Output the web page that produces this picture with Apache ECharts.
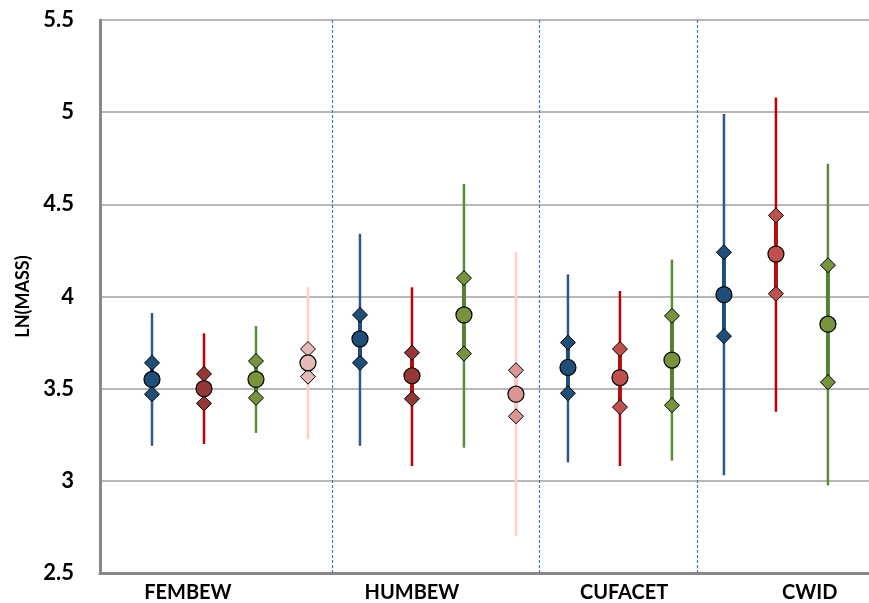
<!DOCTYPE html>
<html>
<head>
<meta charset="utf-8">
<script src="https://cdn.jsdelivr.net/npm/echarts@6/dist/echarts.min.js"></script>
<style>
  html, body { margin: 0; padding: 0; background: #fff; }
  #chart { width: 869px; height: 603px; }
</style>
</head>
<body>
<div id="chart"></div>
<script>
var myChart = echarts.init(document.getElementById('chart'));

// groups on the x axis and where each group starts (slot index)
var groups = ['FEMBEW', 'HUMBEW', 'CUFACET', 'CWID'];
var groupStart = [0, 4, 8, 11];
var labelSlots = [0.69, 5, 9.08, 12.65];
var separators = [3.473, 7.454, 10.49];

// [min, lower diamond, mean, upper diamond, max] per group
var blueVals = [
    [3.19, 3.47, 3.55, 3.64, 3.91],
    [3.19, 3.64, 3.77, 3.90, 4.34],
    [3.10, 3.475, 3.615, 3.75, 4.12],
    [3.03, 3.785, 4.01, 4.24, 4.99]
];
var redVals = [
    [3.20, 3.42, 3.50, 3.58, 3.80],
    [3.08, 3.445, 3.57, 3.695, 4.05],
    [3.08, 3.40, 3.56, 3.715, 4.03],
    [3.375, 4.015, 4.23, 4.44, 5.08]
];
var greenVals = [
    [3.26, 3.45, 3.55, 3.65, 3.84],
    [3.18, 3.69, 3.90, 4.10, 4.61],
    [3.11, 3.41, 3.655, 3.895, 4.20],
    [2.975, 3.535, 3.85, 4.17, 4.72]
];
var pinkVals = [
    [3.225, 3.565, 3.64, 3.715, 4.05],
    [2.70, 3.35, 3.47, 3.60, 4.24]
];

var lineColors = ['#2F5597', '#C00000', '#5B8C3A', '#FFCCCC'];
var boxColors = ['#1F4E79', '#B01010', '#548235', '#F8C4C4'];
var markerColors = [
    ['#1F4E79', '#1F4E79', '#1F4E79', '#1F4E79'],
    ['#953735', '#953735', '#C0504D', '#C0504D'],
    ['#77933C', '#77933C', '#77933C', '#77933C'],
    ['#E6B9B8', '#D99694']
];

function buildData(vals, offset) {
    return vals.map(function (v, g) {
        return [groupStart[g] + offset].concat(v);
    });
}

function makeRender(s) {
    return function (params, api) {
        var x = api.value(0);
        var pMin = api.coord([x, api.value(1)]);
        var pLo = api.coord([x, api.value(2)]);
        var pMean = api.coord([x, api.value(3)]);
        var pHi = api.coord([x, api.value(4)]);
        var pMax = api.coord([x, api.value(5)]);
        var fill = markerColors[s][params.dataIndex];
        var d = 7.5;
        function diamond(p) {
            return {
                type: 'polygon',
                shape: { points: [[p[0], p[1] - d], [p[0] + d, p[1]], [p[0], p[1] + d], [p[0] - d, p[1]]] },
                style: { fill: fill, stroke: '#000', lineWidth: 1 }
            };
        }
        return {
            type: 'group',
            children: [
                {
                    type: 'line',
                    shape: { x1: pMin[0], y1: pMin[1], x2: pMax[0], y2: pMax[1] },
                    style: { stroke: lineColors[s], lineWidth: 2.5 }
                },
                {
                    type: 'line',
                    shape: { x1: pLo[0], y1: pLo[1], x2: pHi[0], y2: pHi[1] },
                    style: { stroke: boxColors[s], lineWidth: 4 }
                },
                diamond(pLo),
                diamond(pHi),
                {
                    type: 'circle',
                    shape: { cx: pMean[0], cy: pMean[1], r: 8 },
                    style: { fill: fill, stroke: '#000', lineWidth: 1.2 }
                }
            ]
        };
    };
}

var allVals = [blueVals, redVals, greenVals, pinkVals];
var series = allVals.map(function (vals, s) {
    return {
        type: 'custom',
        renderItem: makeRender(s),
        data: buildData(vals, s),
        encode: { x: 0, y: [1, 5] },
        z: 3
    };
});

series.push({
    type: 'line',
    data: [],
    silent: true,
    markLine: {
        silent: true,
        symbol: 'none',
        label: { show: false },
        lineStyle: { color: '#3F78C8', width: 1.2, type: [3, 2] },
        data: separators.map(function (v) { return { xAxis: v }; })
    }
});

var option = {
    animation: false,
    grid: { left: 100, right: 0, top: 20, bottom: 30 },
    xAxis: {
        type: 'value',
        min: -1,
        max: 13.79,
        splitLine: { show: false },
        axisLine: { show: true, onZero: false, lineStyle: { color: '#888888', width: 3 } },
        axisTick: { show: false },
        axisLabel: {
            customValues: labelSlots,
            formatter: function (v) {
                var i = labelSlots.indexOf(v);
                return i >= 0 ? groups[i] : '';
            },
            color: '#000',
            fontFamily: 'Lato',
            fontWeight: 'bold',
            fontSize: 20,
            margin: 10
        }
    },
    yAxis: {
        type: 'value',
        min: 2.5,
        max: 5.5,
        interval: 0.5,
        name: 'LN(MASS)',
        nameLocation: 'middle',
        nameGap: 66,
        nameTextStyle: { color: '#000', fontFamily: 'Lato', fontWeight: 'bold', fontSize: 18 },
        axisLine: { show: true, onZero: false, lineStyle: { color: '#888888', width: 3 } },
        axisTick: { show: false },
        splitLine: { lineStyle: { color: '#A0A0A0', width: 1.5 } },
        axisLabel: {
            color: '#000',
            fontFamily: 'Lato',
            fontWeight: 'bold',
            fontSize: 22,
            margin: 26
        }
    },
    series: series
};

myChart.setOption(option);
</script>
</body>
</html>
